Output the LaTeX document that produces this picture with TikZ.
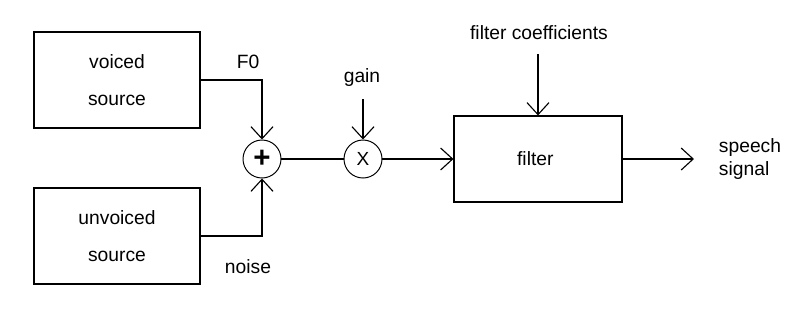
\documentclass[tikz,border=0pt]{standalone}
\usepackage{fontspec}
\setmainfont{Liberation Sans}
\usetikzlibrary{arrows.meta}
\tikzset{
    block/.style={draw, line width=0.8pt, minimum width=4.15cm, align=center,
        font=\fontsize{13.7}{26}\selectfont},
    junction/.style={draw, circle, line width=0.7pt, minimum size=0.95cm, inner sep=0pt},
    label/.style={font=\fontsize{13.7}{17}\selectfont},
    sig/.style={line width=0.8pt, -{Straight Barb[length=0.3cm, width=0.55cm, line width=0.8pt]}}
}
\begin{document}
\begin{tikzpicture}
    \useasboundingbox (0,0) rectangle (20,-7.725);
    \node[block, minimum height=2.4cm] (voiced) at (2.925,-2.0) { voiced \\ source };
    \node[block, minimum height=2.4cm] (unvoiced) at (2.925,-5.9) { unvoiced \\ source };
    \node[junction, font=\fontsize{21}{21}\selectfont\bfseries] (plus) at (6.55,-3.975) { + };
    \node[junction, font=\fontsize{13.5}{13.5}\selectfont] (times) at (9.075,-3.975) { X };
    \node[block, minimum width=4.2cm, minimum height=2.15cm] (filter) at (13.45,-3.975) { filter };
    \node[label] (f0) at (6.2,-1.55) { F0 };
    \node[label] (noise) at (6.2,-6.675) { noise };
    \node[label] (gain) at (9.05,-1.95) { gain };
    \node[label] (coeffs) at (13.475,-0.825) { filter coefficients };
    \node[label, anchor=west, align=left] (speech) at (17.85,-3.975) { speech \\ signal };
    \coordinate (gaintop) at (9.075,-2.475);
    \coordinate (coefftop) at (13.45,-1.35);
    \coordinate (out) at (17.35,-3.975);
    \draw[sig] (voiced.east) -| (plus.north);
    \draw[sig] (unvoiced.east) -| (plus.south);
    \draw[line width=0.8pt] (plus) -- (times);
    \draw[sig] (gaintop) -- (times.north);
    \draw[sig] (times) -- (filter.west);
    \draw[sig] (coefftop) -- (filter.north);
    \draw[sig] (filter.east) -- (out);
\end{tikzpicture}
\end{document}
